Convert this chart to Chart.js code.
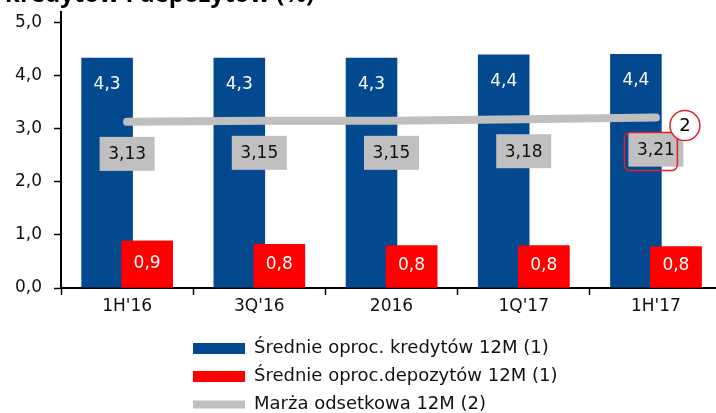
<!DOCTYPE html>
<html><head><meta charset="utf-8">
<script src="https://cdn.jsdelivr.net/npm/chart.js@4"></script>
<style>
html,body{margin:0;padding:0;background:#fff;overflow:hidden;}
#wrap{position:relative;width:716px;height:413px;overflow:hidden;background:#fff;}
#c{position:absolute;left:0;top:-20px;}
</style></head><body>
<div id="wrap"><canvas id="c" width="724" height="433"></canvas></div>
<script>
const categories = ["1H'16", "3Q'16", "2016", "1Q'17", "1H'17"];
const loans = [4.34, 4.34, 4.34, 4.40, 4.41];
const deposits = [0.89, 0.83, 0.80, 0.80, 0.78];
const margin = [3.13, 3.15, 3.15, 3.18, 3.21];
const yTicks = [0, 1, 2, 3, 4, 5];
const seriesNames = ['Średnie oproc. kredytów 12M (1)', 'Średnie oproc.depozytów 12M (1)', 'Marża odsetkowa 12M (2)'];
const titleText = 'kredytów i depozytów (%)';
const noteText = '2';

const BLUE = '#03498f', RED = '#ff0000', GREY = '#bfbfbf';
const FONT = '"DejaVu Sans", sans-serif';
const TITLE_FONT = '"Open Sans", "DejaVu Sans", sans-serif';
const fmt = (v, d) => v.toFixed(d).replace('.', ',');

const valueLabels = {
  id: 'valueLabels',
  afterDatasetDraw(chart, args) {
    // red bars overlap the blue ones
    if (args.index === 0) chart.getDatasetMeta(1).controller.draw();
  },
  afterDatasetsDraw(chart) {
    const ctx = chart.ctx;
    ctx.save();
    ctx.font = '17px ' + FONT;
    ctx.textAlign = 'center';
    ctx.textBaseline = 'middle';
    chart.getDatasetMeta(0).data.forEach((bar, i) => {
      ctx.fillStyle = '#fff';
      ctx.fillText(fmt(loans[i], 1), bar.x, bar.y + 27);
    });
    chart.getDatasetMeta(1).data.forEach((bar, i) => {
      ctx.fillStyle = '#fff';
      ctx.fillText(fmt(deposits[i], 1), bar.x, (bar.y + bar.base) / 2 - 1);
    });
    const pts = chart.getDatasetMeta(2).data;
    pts.forEach((pt, i) => {
      const w = 55, h = 34, x = pt.x - w / 2, y = pt.y + 15;
      ctx.fillStyle = '#c0c0c0';
      ctx.fillRect(x, y, w, h);
      ctx.fillStyle = '#111';
      ctx.fillText(fmt(margin[i], 2), pt.x, y + h / 2 + 1);
      if (i === pts.length - 1) {
        ctx.strokeStyle = '#e0202a';
        ctx.lineWidth = 1.5;
        ctx.beginPath();
        ctx.roundRect(x - 4, y, 53, 38, 6);
        ctx.stroke();
        ctx.beginPath();
        ctx.arc(pt.x + 29, pt.y + 8, 15, 0, Math.PI * 2);
        ctx.fillStyle = '#fff';
        ctx.fill();
        ctx.stroke();
        ctx.fillStyle = '#000';
        ctx.font = '18px ' + FONT;
        ctx.fillText(noteText, pt.x + 29, pt.y + 9);
      }
    });
    ctx.restore();
  }
};

const legendMover = {
  id: 'legendMover',
  afterLayout(chart) {
    const lg = chart.legend;
    if (!lg) return;
    const pad = lg.options.labels.padding;
    const left = 193 - pad, top = 359.5 - pad;
    lg.left = left; lg.top = top;
    lg.width = 520; lg.height = 120;
    lg.right = left + 520; lg.bottom = top + 120;
  }
};

new Chart(document.getElementById('c'), {
  data: {
    labels: categories,
    datasets: [
      { type: 'bar', label: seriesNames[0], data: loans, backgroundColor: BLUE, borderWidth: 0,
        pointStyle: 'rect', order: 0, categoryPercentage: 0.605, barPercentage: 1.29 },
      { type: 'bar', label: seriesNames[1], data: deposits, backgroundColor: RED, borderWidth: 0,
        pointStyle: 'rect', order: 0, categoryPercentage: 0.605, barPercentage: 1.29 },
      { type: 'line', label: seriesNames[2], data: margin, borderColor: GREY, backgroundColor: GREY,
        borderWidth: 8, borderCapStyle: 'round', tension: 0, pointRadius: 0, pointHoverRadius: 0,
        pointStyle: 'line', pointBorderWidth: 8, pointBorderColor: GREY, pointBackgroundColor: GREY,
        order: -1 }
    ]
  },
  options: {
    responsive: false,
    animation: false,
    devicePixelRatio: 1,
    layout: { padding: { left: 5, right: 2, top: 0, bottom: 95 } },
    scales: {
      x: {
        offset: true,
        grid: { offset: true, drawOnChartArea: false, tickLength: 7, color: '#000', tickWidth: 1.5 },
        border: { display: true, color: '#000', width: 2 },
        ticks: { color: '#111', padding: 1, font: { family: FONT, size: 17 } },
        afterFit(s) { s.height = 30; }
      },
      y: {
        min: 0, max: 5.2,
        afterBuildTicks(s) { s.ticks = yTicks.map(v => ({ value: v })); },
        grid: { drawOnChartArea: false, tickLength: 7, color: '#000', tickWidth: 1.5 },
        border: { display: true, color: '#000', width: 2 },
        ticks: { color: '#111', padding: 12, font: { family: FONT, size: 17 },
          callback: v => fmt(v, 1) },
        afterFit(s) { s.width = 56; }
      }
    },
    plugins: {
      title: { display: true, text: titleText, align: 'start', color: '#000',
        font: { family: TITLE_FONT, size: 24, weight: 'bold', lineHeight: 1.2 }, padding: { top: 1, bottom: 2.2 } },
      legend: {
        position: 'chartArea', align: 'start',
        labels: { usePointStyle: true, pointStyleWidth: 52, boxHeight: 11, padding: 10,
          color: '#111', font: { family: FONT, size: 18 },
          sort: (a, b) => a.datasetIndex - b.datasetIndex }
      },
      tooltip: { enabled: false }
    }
  },
  plugins: [valueLabels, legendMover]
});
</script>
</body></html>
